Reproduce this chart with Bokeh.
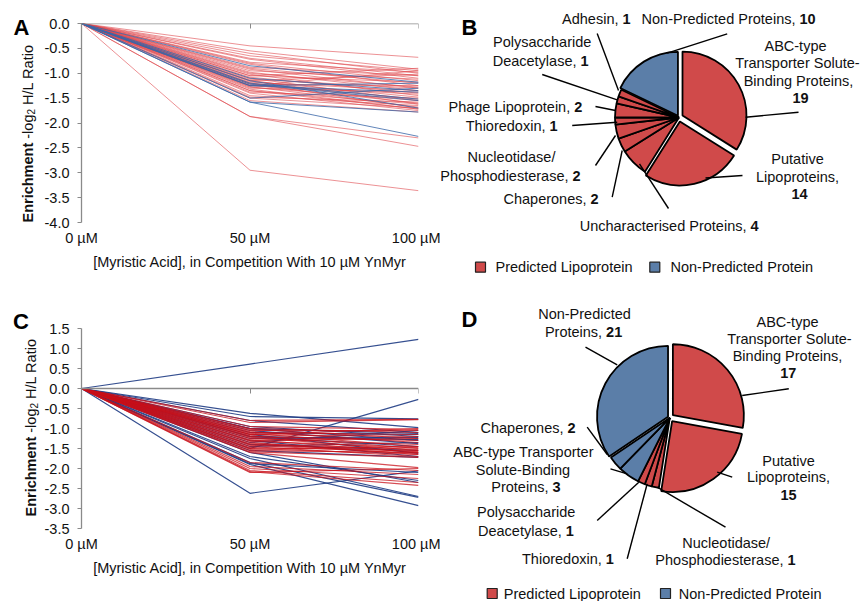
import math
from bokeh.plotting import figure
from bokeh.models import Range1d, LinearAxis, FixedTicker, PrintfTickFormatter, ColumnDataSource
from bokeh.layouts import row, column
from bokeh.embed import file_html
from bokeh.resources import INLINE
from bokeh.core.properties import value

FONT = "Liberation Sans"
FS = "14.5px"
TXT = "#111111"
AXC = "#8a8a8a"
RED = "#D04A4A"
BLUE = "#5B7EA8"

# ---------------- data ----------------
doses = [0, 50, 100]
dose_labels = ["0 µM", "50 µM", "100 µM"]
x_title = "[Myristic Acid], in Competition With 10 µM YnMyr"
a_yticks = [0.0, -0.5, -1.0, -1.5, -2.0, -2.5, -3.0, -3.5, -4.0]
c_yticks = [1.5, 1.0, 0.5, 0.0, -0.5, -1.0, -1.5, -2.0, -2.5, -3.0, -3.5]

# Panel A (all proteins start at 0 at 0 µM)
a_red_50 = [-0.45, -0.55, -0.60, -0.65, -0.70, -0.72, -0.78, -0.80, -0.82, -0.88, -0.90, -0.92,
            -0.95, -0.98, -1.00, -1.02, -1.05, -1.08, -1.10, -1.12, -1.14, -1.16, -1.18, -1.20,
            -1.20, -1.22, -1.24, -1.25, -1.27, -1.28, -1.30, -1.32, -1.35, -1.38, -1.40, -1.45,
            -1.48, -1.50, -1.55, -1.25, -1.15, -1.05, -1.87, -1.87, -2.95, -1.35]
a_red_100 = [-0.68, -0.92, -1.00, -0.95, -1.05, -1.10, -0.98, -1.15, -1.25, -1.05, -1.20, -1.30,
             -1.12, -1.35, -1.28, -1.45, -1.18, -1.40, -1.55, -1.30, -1.62, -1.48, -1.35, -1.70,
             -1.52, -1.25, -1.60, -1.42, -1.68, -1.55, -1.38, -1.72, -1.62, -1.50, -1.75, -1.65,
             -1.58, -1.70, -1.78, -0.95, -1.02, -0.90, -2.30, -2.47, -3.36, -1.72]
a_blue_50 = [-0.85, -1.10, -1.22, -1.25, -1.25, -1.50, -1.58, -1.58, -1.20, -1.15]
a_blue_100 = [-1.18, -1.35, -1.55, -1.38, -1.20, -1.30, -1.78, -2.27, -1.52, -1.70]

# Panel C
c_red_50 = [-0.80, -0.85, -0.95, -1.00, -1.02, -1.05, -1.08, -1.10, -1.12, -1.15, -1.18, -1.20,
            -1.22, -1.25, -1.28, -1.30, -1.32, -1.35, -1.38, -1.40, -1.42, -1.45, -1.48, -1.50,
            -1.52, -1.55, -1.58, -1.60, -1.85, -1.95, -2.00, -2.05, -2.08, -2.10, -1.15]
c_red_100 = [-0.77, -0.78, -1.02, -1.10, -1.25, -1.05, -1.35, -1.15, -1.45, -1.20, -1.50, -1.30,
             -1.55, -1.40, -1.60, -1.25, -1.48, -1.65, -1.52, -1.58, -1.62, -1.70, -1.55, -1.65,
             -1.45, -1.60, -1.72, -1.98, -2.05, -2.15, -2.25, -2.35, -2.42, -2.00, -1.00]
c_blue_50 = [0.61, -0.62, -0.70, -0.80, -0.95, -1.00, -1.05, -1.10, -1.15, -1.20, -1.25, -1.30,
             -1.35, -1.40, -1.50, -1.55, -1.70, -1.75, -1.85, -1.90, -1.88, -2.62, -1.45, -1.00,
             -1.60, -1.20]
c_blue_100 = [1.23, -0.98, -0.76, -1.10, -1.20, -1.30, -1.38, -1.15, -1.62, -1.45, -1.22, -1.70,
              -1.05, -1.55, -0.27, -1.72, -2.30, -2.70, -2.72, -2.93, -2.10, -2.06, -1.35, -1.12,
              -2.35, -1.28]

# Panel B pie (clockwise from 12 o'clock)
b_categories = ["ABC-type Transporter Solute-Binding Proteins", "Putative Lipoproteins",
                "Uncharacterised Proteins", "Chaperones", "Nucleotidase/Phosphodiesterase",
                "Thioredoxin", "Phage Lipoprotein", "Polysaccharide Deacetylase", "Adhesin",
                "Non-Predicted Proteins"]
b_counts = [19, 14, 4, 2, 2, 1, 2, 1, 1, 10]
b_predicted = [True, True, True, True, True, True, True, True, True, False]

# Panel D pie
d_categories = ["ABC-type Transporter Solute-Binding Proteins", "Putative Lipoproteins",
                "Nucleotidase/Phosphodiesterase", "Thioredoxin", "Polysaccharide Deacetylase",
                "ABC-type Transporter Solute-Binding Proteins", "Chaperones", "Non-Predicted Proteins"]
d_counts = [17, 15, 1, 1, 1, 3, 2, 21]
d_predicted = [True, True, True, True, True, False, False, False]

legend_labels = ["Predicted Lipoprotein", "Non-Predicted Protein"]


def blank_fig(width, height):
    p = figure(width=width, height=height, x_range=Range1d(0, width), y_range=Range1d(0, height),
               output_backend="svg", toolbar_location=None,
               x_axis_location=None, y_axis_location=None, min_border=0)
    p.outline_line_color = None
    p.grid.visible = False
    return p


# ---------------- letter + y-title strip ----------------
def title_strip(width, height, page_left, page_top, letter, letter_page, title_x, title_start):
    p = blank_fig(width, height)
    bottom = page_top + height

    def conv(px, py):
        return px - page_left, bottom - py

    lx, ly = conv(*letter_page)
    p.text(x=[lx], y=[ly], text=[letter], text_align="center", text_baseline="middle",
           text_font=value(FONT), text_font_size=value("22px"), text_font_style="bold",
           text_color="#000000")
    s = 14.5
    pieces = [("Enrichment", "bold", FS, 0, 5.501 * s, 0.278 * s),
              ("-log", "normal", FS, 0, 1.667 * s, 0.0),
              ("2", "normal", "10px", 3, 0.556 * 10, 0.278 * s),
              ("H/L Ratio", "normal", FS, 0, 4.168 * s, 0.0)]
    cur = title_start
    for text, style, size, dx, w, gap in pieces:
        x, y = conv(title_x + dx, cur)
        p.text(x=[x], y=[y], text=[text], angle=math.pi / 2, text_align="left",
               text_baseline="middle", text_font=value(FONT), text_font_size=value(size),
               text_font_style=style, text_color=TXT)
        cur -= w + gap
    return p


# ---------------- line panels ----------------
def line_panel(width, height, bl, br, bt, bb, ylo, yhi, yticks, series):
    p = figure(width=width, height=height, x_range=Range1d(0, 100), y_range=Range1d(ylo, yhi),
               output_backend="svg", toolbar_location=None,
               x_axis_location=None, y_axis_location=None,
               min_border_left=bl, min_border_right=br, min_border_top=bt, min_border_bottom=bb)
    p.outline_line_color = None
    p.grid.visible = False

    yaxis = LinearAxis(ticker=FixedTicker(ticks=yticks),
                       formatter=PrintfTickFormatter(format="%.1f"),
                       axis_line_color=AXC, axis_line_width=1.3,
                       major_tick_line_color=AXC, major_tick_out=4, major_tick_in=0,
                       minor_tick_line_color=None,
                       major_label_text_font=FONT, major_label_text_font_size=FS,
                       major_label_text_color=TXT, major_label_standoff=8)
    p.add_layout(yaxis, "left")

    xlab = LinearAxis(ticker=FixedTicker(ticks=doses),
                      major_label_overrides={d: l for d, l in zip(doses, dose_labels)},
                      axis_line_color=None, major_tick_line_color=None, minor_tick_line_color=None,
                      major_label_text_font=FONT, major_label_text_font_size=FS,
                      major_label_text_color=TXT, major_label_standoff=1,
                      axis_label=x_title, axis_label_standoff=5,
                      axis_label_text_font=FONT, axis_label_text_font_size=FS,
                      axis_label_text_font_style="normal", axis_label_text_color=TXT)
    p.add_layout(xlab, "below")

    zero = LinearAxis(fixed_location=0, ticker=FixedTicker(ticks=doses),
                      major_label_overrides={d: "" for d in doses},
                      axis_line_color=AXC, axis_line_width=1.3,
                      major_tick_line_color=AXC, major_tick_out=5, major_tick_in=0,
                      minor_tick_line_color=None, major_label_standoff=0,
                      major_label_text_font_size="1px")
    p.add_layout(zero, "below")

    for v50, v100, color, alpha, lw in series:
        xs = [doses for _ in v50]
        ys = [[0.0, a, b] for a, b in zip(v50, v100)]
        p.multi_line(xs=xs, ys=ys, line_color=color, line_alpha=alpha, line_width=lw)
    return p


# ---------------- pie panels ----------------
def add_pieces(p, pieces, conv, size=FS):
    groups = {}
    for t, px, py, align, bold in pieces:
        x, y = conv(px, py)
        g = groups.setdefault((align, bold), {"x": [], "y": [], "text": []})
        g["x"].append(x)
        g["y"].append(y)
        g["text"].append(t)
    for (align, bold), g in groups.items():
        p.text(x="x", y="y", text="text", source=ColumnDataSource(g), text_align=align,
               text_baseline="middle", text_font=value(FONT), text_font_size=value(size),
               text_font_style="bold" if bold else "normal", text_color=TXT)


def pie_panel(width, height, page_left, page_top, center_page, r, counts, predicted, explode,
              pieces, leaders, letter, letter_page, legend_page):
    p = blank_fig(width, height)
    bottom = page_top + height

    def conv(px, py):
        return px - page_left, bottom - py

    cx, cy = conv(*center_page)
    total = float(sum(counts))
    data = {"x": [], "y": [], "start": [], "end": [], "color": []}
    cum = 0
    for c, pr, e in zip(counts, predicted, explode):
        t0 = cum / total * 2 * math.pi
        cum += c
        t1 = cum / total * 2 * math.pi
        tm = (t0 + t1) / 2
        data["x"].append(cx + e * math.sin(tm))
        data["y"].append(cy + e * math.cos(tm))
        data["start"].append(math.pi / 2 - t0)
        data["end"].append(math.pi / 2 - t1)
        data["color"].append(RED if pr else BLUE)
    p.wedge(x="x", y="y", radius=r, start_angle="start", end_angle="end", direction="clock",
            fill_color="color", line_color="#000000", line_width=1.8,
            source=ColumnDataSource(data))

    seg = {"x0": [], "y0": [], "x1": [], "y1": []}
    for (ax, ay), (bx, by) in leaders:
        x0, y0 = conv(ax, ay)
        x1, y1 = conv(bx, by)
        seg["x0"].append(x0); seg["y0"].append(y0)
        seg["x1"].append(x1); seg["y1"].append(y1)
    p.segment(x0="x0", y0="y0", x1="x1", y1="y1", line_color="#000000", line_width=1.4,
              source=ColumnDataSource(seg))

    add_pieces(p, pieces, conv)

    lx, ly = conv(*letter_page)
    p.text(x=[lx], y=[ly], text=[letter], text_align="center", text_baseline="middle",
           text_font=value(FONT), text_font_size=value("22px"), text_font_style="bold",
           text_color="#000000")

    (sq1, tx1, sq2, tx2, ly_page) = legend_page
    rx = [conv(sq1, ly_page)[0], conv(sq2, ly_page)[0]]
    ry = [conv(sq1, ly_page)[1]] * 2
    p.rect(x=rx, y=ry, width=10, height=10, fill_color=[RED, BLUE], line_color="#222222",
           line_width=1.2)
    tx = [conv(tx1, ly_page)[0], conv(tx2, ly_page)[0]]
    p.text(x=tx, y=ry, text=legend_labels, text_align="left", text_baseline="middle",
           text_font=value(FONT), text_font_size=value(FS), text_color=TXT)
    return p


# ---- strips with panel letters and y titles ----
tA = title_strip(40, 300, 0, 0, "A", (21, 27), 27.5, 222)
tC = title_strip(40, 301, 0, 300, "C", (20.5, 321), 30.5, 516)

# ---- Panel A (frame x 81..418, y 23..222) ----
pA = line_panel(400, 300, 41, 22, 23, 78, -4.0, 0.0, a_yticks,
                [(a_red_50, a_red_100, "#E0474C", 0.6, 1.0),
                 (a_blue_50, a_blue_100, "#3A66A8", 0.8, 1.0)])

# ---- Panel C (frame x 81..418, y 328..528) ----
pC = line_panel(400, 301, 41, 22, 28, 73, -3.5, 1.5, c_yticks,
                [(c_blue_50, c_blue_100, "#1F3C84", 0.9, 1.2),
                 (c_red_50, c_red_100, "#C8101A", 0.75, 1.2)])

# ---- Panel B ----
b_pieces = [
    ("Adhesin,", 618, 18.3, "right", False), ("1", 622, 18.3, "left", True),
    ("Non-Predicted Proteins,", 795, 18.3, "right", False), ("10", 799, 18.3, "left", True),
    ("ABC-type", 795, 45, "center", False), ("Transporter Solute-", 797, 62, "center", False),
    ("Binding Proteins,", 798, 80, "center", False), ("19", 800, 97, "center", True),
    ("Putative", 797, 158, "center", False), ("Lipoproteins,", 797, 176, "center", False),
    ("14", 799, 193, "center", True),
    ("Uncharacterised Proteins,", 746, 225, "right", False), ("4", 750, 225, "left", True),
    ("Chaperones,", 586, 198, "right", False), ("2", 590, 198, "left", True),
    ("Nucleotidase/", 511, 156.7, "center", False),
    ("Phosphodiesterase,", 568, 175, "right", False), ("2", 572, 175, "left", True),
    ("Thioredoxin,", 545, 125, "right", False), ("1", 549, 125, "left", True),
    ("Phage Lipoprotein,", 569.7, 106.7, "right", False), ("2", 573.7, 106.7, "left", True),
    ("Polysaccharide", 541.7, 41.7, "center", False),
    ("Deacetylase,", 576, 60, "right", False), ("1", 580, 60, "left", True),
]
b_leaders = [
    ((596.7, 33), (618, 90)), ((726.7, 33.3), (666.7, 52.7)), ((798, 111.7), (745, 116.7)),
    ((742, 175), (705, 177.5)), ((668, 208), (639, 163.3)), ((611.7, 196.7), (621.7, 150)),
    ((595, 165), (615, 135)), ((571.7, 125), (616.7, 121.7)), ((595, 106), (615, 110)),
    ((541.7, 74), (616.7, 99.3)),
]
pB = pie_panel(422, 300, 440, 0, (678.5, 117), 64, b_counts, b_predicted,
               [4, 4, 0, 0, 0, 0, 0, 0, 0, 2], b_pieces, b_leaders, "B", (469, 27),
               (480, 495, 654.3, 670, 266.7))

# ---- Panel D ----
d_pieces = [
    ("Non-Predicted", 584, 313.3, "center", False),
    ("Proteins,", 601.6, 331.7, "right", False), ("21", 605.6, 331.7, "left", True),
    ("ABC-type", 787, 321, "center", False), ("Transporter Solute-", 789, 338, "center", False),
    ("Binding Proteins,", 787, 355, "center", False), ("17", 787.7, 372.7, "center", True),
    ("Putative", 788, 460, "center", False), ("Lipoproteins,", 788, 476.7, "center", False),
    ("15", 788, 494, "center", True),
    ("Chaperones,", 563, 427.7, "right", False), ("2", 567, 427.7, "left", True),
    ("ABC-type Transporter", 523, 451.7, "center", False),
    ("Solute-Binding", 522.5, 469, "center", False),
    ("Proteins,", 548, 486, "right", False), ("3", 552, 486, "left", True),
    ("Polysaccharide", 525.7, 511.7, "center", False),
    ("Deacetylase,", 561.3, 530, "right", False), ("1", 565.3, 530, "left", True),
    ("Thioredoxin,", 601.3, 558.3, "right", False), ("1", 605.3, 558.3, "left", True),
    ("Nucleotidase/", 725.7, 542.7, "center", False),
    ("Phosphodiesterase,", 783, 559.3, "right", False), ("1", 787, 559.3, "left", True),
]
d_leaders = [
    ((585, 346.7), (616.7, 364.3)), ((788.3, 388.3), (741.7, 395)),
    ((731.7, 476.7), (716.7, 471.7)), ((586.7, 426.7), (606.7, 454)),
    ((610, 468.3), (626.7, 473.3)), ((596.7, 520), (638.3, 481.7)),
    ((626.7, 558.3), (646.7, 483.3)), ((725, 526.7), (656.7, 486.7)),
]
pD = pie_panel(422, 301, 440, 300, (669.3, 417.3), 71, d_counts, d_predicted,
               [4, 4, 0, 0, 0, 0, 0, 2], d_pieces, d_leaders, "D", (469, 319),
               (491.7, 503.3, 665, 678.3, 593))

layout = row(column(tA, tC), column(pA, pC), column(pB, pD))
open("out.html", "w").write(file_html(layout, INLINE))
